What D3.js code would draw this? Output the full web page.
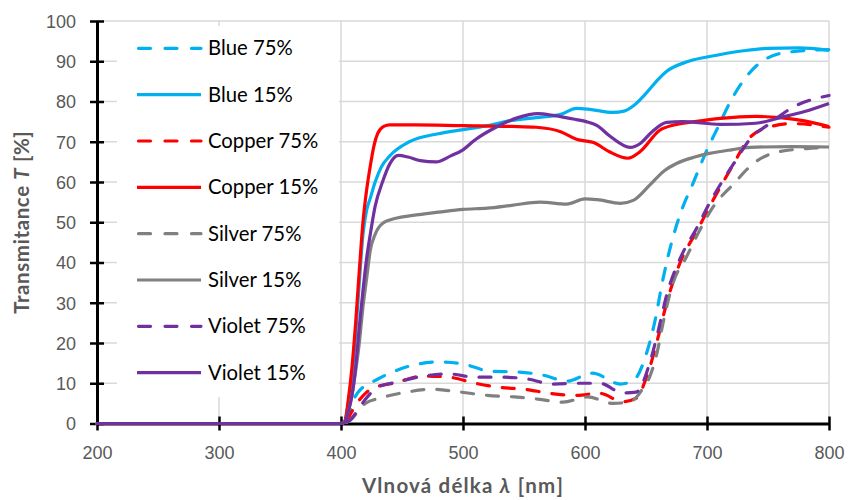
<!DOCTYPE html>
<html>
<head>
<meta charset="utf-8">
<script src="https://cdn.jsdelivr.net/npm/d3@7"></script>
<style>
  html, body { margin: 0; padding: 0; background: #fff; }
  svg { display: block; font-family: Lato, "Open Sans", sans-serif; }
</style>
</head>
<body>
<svg id="chart" width="849" height="500"></svg>
<script>
// ---- data ----
const seriesNames = ["Blue 75%", "Blue 15%", "Copper 75%", "Copper 15%", "Silver 75%", "Silver 15%", "Violet 75%", "Violet 15%"];
const seriesColors = ["#00b0f0", "#00b0f0", "#ff0000", "#ff0000", "#808080", "#808080", "#7030a0", "#7030a0"];
const seriesDashed = [true, false, true, false, true, false, true, false];

const blue75X = [200, 300, 400, 403, 407, 411, 416, 421, 430, 440, 459, 481, 500, 522, 544, 566, 585, 606, 629, 640, 651, 657, 664, 671, 678, 689, 700, 708, 721, 741, 765, 800];
const blue75Y = [0, 0, 0, 0.5, 3, 6.3, 8.5, 9.5, 11, 12.5, 14.5, 15.3, 14.8, 13, 12.8, 12, 10.5, 12.5, 9.8, 10.8, 18, 25, 36, 45, 52, 60, 68, 73, 81, 89, 92.2, 92.9];

const blue15X = [200, 300, 400, 403, 406, 409, 412, 415, 418, 421, 424, 428, 433, 440, 456, 480, 500, 520, 540, 560, 580, 593, 605, 623, 632, 640, 650, 660, 667, 685, 708, 730, 750, 775, 800];
const blue15Y = [0, 0, 0, 0.5, 5, 12, 22, 35, 47, 53, 56, 60, 63.7, 66.5, 70, 72, 73, 74, 75.3, 76, 76.8, 78.3, 78, 77.3, 77.6, 79, 82, 85.5, 87.5, 90, 91.5, 92.6, 93.2, 93.3, 92.7];

const copper75X = [200, 300, 400, 404, 408, 413, 420, 426, 443, 468, 489, 510, 529, 551, 571, 593, 612, 631, 642, 651, 660, 667, 678, 692, 705, 722, 733, 747, 770, 800];
const copper75Y = [0, 0, 0, 0.5, 2.5, 5, 7.5, 8.8, 10, 11.8, 11.5, 10, 9, 8.5, 7.5, 7, 7.5, 5.4, 6.3, 12, 21.5, 30, 40, 48, 55.5, 64.6, 70.3, 73.3, 74.5, 73.6];

const copper15X = [200, 300, 400, 403, 406, 409, 412, 415, 418, 421, 424, 427, 430, 435, 440, 460, 500, 540, 560, 580, 593, 607, 620, 635, 645, 661, 675, 690, 711, 740, 760, 780, 800];
const copper15Y = [0, 0, 0, 0.5, 6, 14, 25, 38, 50, 58, 64, 69, 72, 73.8, 74.2, 74.2, 74, 73.8, 73.6, 72.5, 70.6, 69.8, 67.5, 65.9, 67.5, 72.8, 74.3, 75, 75.8, 76.3, 76, 75.2, 73.8];

const silver75X = [200, 300, 400, 405, 410, 415, 420, 432, 454, 475, 498, 520, 542, 563, 582, 602, 623, 637, 648, 653, 659, 664, 672, 683, 694, 705, 722, 738, 757, 782, 800];
const silver75Y = [0, 0, 0, 0.3, 1.5, 3.5, 5, 6.3, 7.8, 8.5, 7.8, 7, 6.6, 6, 5.3, 6.6, 5, 5.4, 9, 11.6, 17.5, 25, 34.8, 41.3, 48, 53.8, 59.6, 64.6, 67.4, 68.3, 68.6];

const silver15X = [200, 300, 400, 403, 406, 409, 412, 415, 418, 421, 424, 428, 434, 445, 459, 480, 500, 520, 540, 563, 585, 600, 610, 629, 640, 653, 665, 675, 690, 702, 720, 735, 770, 800];
const silver15Y = [0, 0, 0, 0.3, 3, 7, 13, 20, 29, 36, 43, 47, 49.7, 51, 51.7, 52.5, 53.2, 53.5, 54.2, 55, 54.5, 55.8, 55.6, 54.7, 55.5, 59.2, 62.8, 64.6, 66.2, 67.1, 68, 68.6, 68.8, 68.7];

const violet75X = [200, 300, 400, 404, 408, 413, 420, 430, 446, 468, 489, 510, 532, 554, 573, 596, 612, 631, 642, 653, 660, 667, 678, 692, 702, 722, 738, 749, 770, 800];
const violet75Y = [0, 0, 0, 0.3, 1, 3, 6, 9, 10.3, 11.8, 12.3, 11.5, 11.5, 11, 9.8, 10, 10, 7.6, 7.8, 15, 23, 32, 41, 48.8, 54.7, 64.6, 71.6, 74, 78.5, 81.5];

const violet15X = [200, 300, 400, 403, 406, 409, 412, 415, 418, 421, 424, 428, 434, 440, 447, 455, 465, 478, 490, 500, 510, 527, 545, 561, 575, 593, 601, 610, 620, 637, 645, 655, 667, 680, 711, 740, 760, 780, 800];
const violet15Y = [0, 0, 0, 0.3, 3, 7, 14, 24, 33, 41, 47, 54, 60, 64.5, 66.6, 66.2, 65.3, 65, 66.5, 68, 70.5, 73.6, 76, 77, 76.5, 75.5, 75, 74, 71.5, 68.6, 69.5, 72.5, 74.8, 75, 74.3, 74.6, 76, 77.5, 79.5];

const xTicks = [200, 300, 400, 500, 600, 700, 800];
const yTicks = [0, 10, 20, 30, 40, 50, 60, 70, 80, 90, 100];

const seriesXs = [blue75X, blue15X, copper75X, copper15X, silver75X, silver15X, violet75X, violet15X];
const seriesYs = [blue75Y, blue15Y, copper75Y, copper15Y, silver75Y, silver15Y, violet75Y, violet15Y];

// ---- layout ----
const svg = d3.select("#chart");
const x = d3.scaleLinear().domain([200, 800]).range([97, 829]);
const y = d3.scaleLinear().domain([0, 100]).range([423.5, 21]);

const gridColor = "#d9d9d9";
const textColor = "#595959";

// gridlines
svg.append("g").selectAll("line.h").data(yTicks.filter(d => d > 0)).join("line")
  .attr("x1", x(200)).attr("x2", x(800))
  .attr("y1", d => y(d)).attr("y2", d => y(d))
  .attr("stroke", gridColor).attr("stroke-width", 1.5);
svg.append("g").selectAll("line.v").data(xTicks.filter(d => d > 200)).join("line")
  .attr("x1", d => x(d)).attr("x2", d => x(d))
  .attr("y1", y(0)).attr("y2", y(100))
  .attr("stroke", gridColor).attr("stroke-width", 1.5);

// axes
const yAxis = svg.append("g").attr("transform", `translate(${x(200)},0)`)
  .call(d3.axisLeft(y).tickValues(yTicks).tickSize(7).tickSizeOuter(0).tickPadding(14));
yAxis.selectAll(".tick line").attr("x1", 7).attr("x2", -7).attr("stroke", "#000").attr("stroke-width", 2.5);
yAxis.select(".domain").attr("stroke", "#000").attr("stroke-width", 3);
yAxis.selectAll(".tick text").attr("fill", textColor).style("font-size", "18px").attr("dy", "0.35em");

const xAxis = svg.append("g").attr("transform", `translate(0,${y(0)})`)
  .call(d3.axisBottom(x).tickValues(xTicks).tickSize(7).tickSizeOuter(0));
xAxis.selectAll(".tick line").attr("y1", -7).attr("y2", 7).attr("stroke", "#000").attr("stroke-width", 2.5);
xAxis.select(".domain").attr("stroke", "#000").attr("stroke-width", 3);
xAxis.selectAll(".tick text").attr("fill", textColor).style("font-size", "18px")
  .attr("y", 29).attr("dy", "0.35em");

// series
const line = d3.line().x(d => x(d[0])).y(d => y(d[1])).curve(d3.curveMonotoneX);
const plot = svg.append("g");
seriesNames.forEach((name, i) => {
  const pts = seriesXs[i].map((v, j) => [v, seriesYs[i][j]]);
  plot.append("path").datum(pts)
    .attr("d", line)
    .attr("fill", "none")
    .attr("stroke", seriesColors[i])
    .attr("stroke-width", 3.2)
    .attr("stroke-linejoin", "round")
    .attr("stroke-linecap", seriesDashed[i] ? "round" : "butt")
    .attr("stroke-dasharray", seriesDashed[i] ? "12,13" : null);
});

// legend
const legend = svg.append("g");
legend.append("rect").attr("x", 117).attr("y", 26).attr("width", 222).attr("height", 371).attr("fill", "#fff");
const legY0 = 48.3, legStep = 46.34;
seriesNames.forEach((name, i) => {
  const ly = legY0 + i * legStep;
  legend.append("line")
    .attr("x1", 137).attr("x2", 201).attr("y1", ly).attr("y2", ly)
    .attr("stroke", seriesColors[i]).attr("stroke-width", 3.2)
    .attr("stroke-linecap", seriesDashed[i] ? "round" : "butt")
    .attr("stroke-dasharray", seriesDashed[i] ? "12,14.5" : null)
    .attr("stroke-dashoffset", seriesDashed[i] ? -1.5 : null);
  legend.append("text").attr("x", 208).attr("y", ly).attr("dy", "0.35em")
    .attr("fill", "#000").style("font-size", "20.3px").text(name);
});

// axis titles
const xt = svg.append("text").attr("x", (x(200) + x(800)) / 2).attr("y", 486).attr("dy", "0.35em")
  .attr("text-anchor", "middle").attr("fill", textColor)
  .style("font-size", "20.5px").style("font-weight", "bold").style("letter-spacing", "1.2px");
xt.append("tspan").text("Vlnová délka ");
xt.append("tspan").style("font-style", "italic").text("λ");
xt.append("tspan").text(" [nm]");

const yt = svg.append("text").attr("transform", `translate(22,${(y(0) + y(100)) / 2}) rotate(-90)`).attr("dy", "0.35em")
  .attr("text-anchor", "middle").attr("fill", textColor)
  .style("font-size", "20.5px").style("font-weight", "bold").style("letter-spacing", "0.6px");
yt.append("tspan").text("Transmitance ");
yt.append("tspan").style("font-style", "italic").text("T");
yt.append("tspan").text(" [%]");
</script>
</body>
</html>
